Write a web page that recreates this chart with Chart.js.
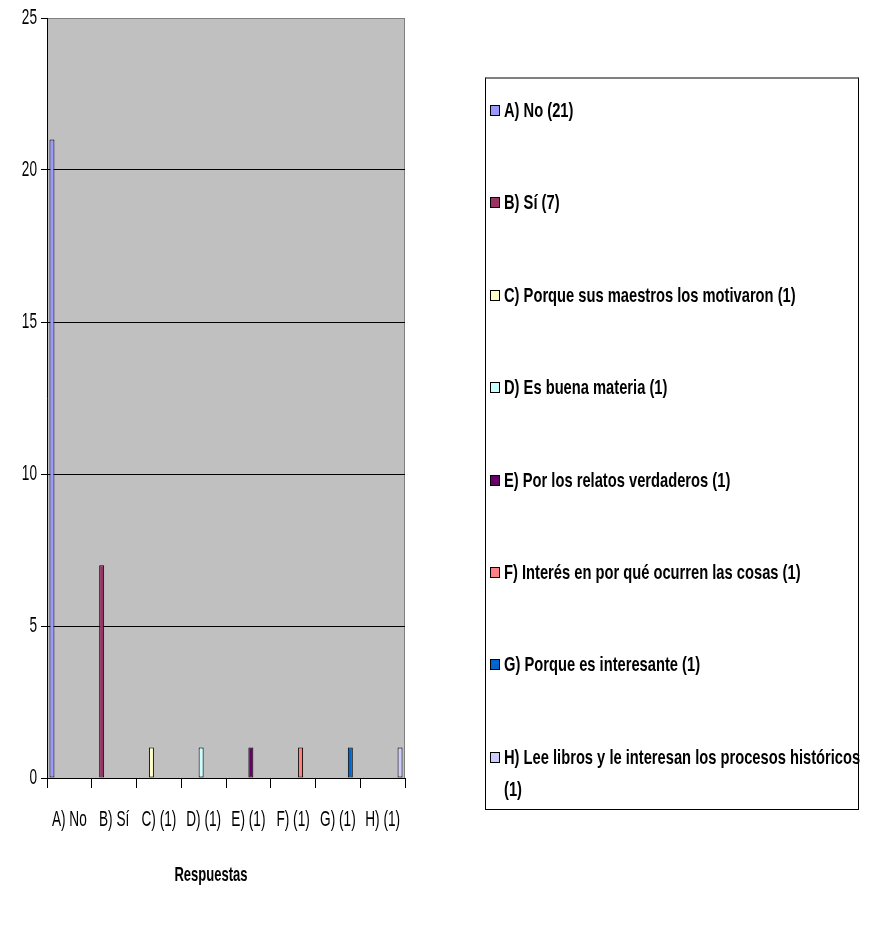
<!DOCTYPE html>
<html>
<head>
<meta charset="utf-8">
<script src="https://cdn.jsdelivr.net/npm/chart.js@4.4.1/dist/chart.umd.min.js"></script>
<style>
  html, body { margin: 0; padding: 0; background: #ffffff; }
  #wrap { position: relative; width: 872px; height: 941px; overflow: hidden; }
  #chart { position: absolute; left: 0; top: 0; }
  .font { font-family: "Liberation Sans", Arial, sans-serif; }
  /* tall, condensed lettering */
  .cond { display: inline-block; transform: scaleX(0.70); transform-origin: 0 0; }
  #axisTitle { position: absolute; left: 111px; width: 200px; top: 861px; text-align: center;
               font-weight: bold; font-size: 21px; line-height: 26px; color: #000; }
  #axisTitle .cond { transform: scaleX(0.62); transform-origin: 50% 0; }
  #legendBox { position: absolute; left: 485px; top: 77px; width: 374px; height: 733px;
               border: 1px solid #000; border-top: 2px solid #808080; box-sizing: border-box; }
  .item { position: absolute; left: 4px; right: 0; font-weight: bold; font-size: 21px;
          line-height: 32px; color: #000; }
  .item .cond { position: absolute; left: 14px; top: 0; width: 512px; white-space: normal; }
  .swatch { position: absolute; left: 0; top: 11px; width: 8px; height: 9px; border: 1px solid #000; }
</style>
</head>
<body>
<div id="wrap">
  <canvas id="chart" width="872" height="941"></canvas>
  <div id="axisTitle" class="font"><span class="cond">Respuestas</span></div>
  <div id="legendBox" class="font"></div>
</div>
<script>
// Answer categories along the x axis
const categories = ['A) No', 'B) Sí', 'C) (1)', 'D) (1)', 'E) (1)', 'F) (1)', 'G) (1)', 'H) (1)'];
// One series per answer, as named in the legend
const seriesNames = [
  'A) No (21)',
  'B) Sí (7)',
  'C) Porque sus maestros los motivaron (1)',
  'D) Es buena materia (1)',
  'E) Por los relatos verdaderos (1)',
  'F) Interés en por qué ocurren las cosas (1)',
  'G) Porque es interesante (1)',
  'H) Lee libros y le interesan los procesos históricos (1)'
];
// Number of responses per answer
const counts = [21, 7, 1, 1, 1, 1, 1, 1];
// Fill colours for each series
const seriesColors = ['#9999FF', '#993366', '#FFFFCC', '#CCFFFF', '#660066', '#FF8080', '#0066CC', '#CCCCFF'];
// Value axis ticks
const yTicks = [0, 5, 10, 15, 20, 25];

const FONT = '"Liberation Sans", Arial, sans-serif';
const NARROW = 0.62;

// Each answer is its own series with a value only in its own category
const datasets = seriesNames.map((name, i) => ({
  label: name,
  data: categories.map((_, j) => (j === i ? counts[i] : null)),
  backgroundColor: seriesColors[i],
  borderColor: '#000000',
  borderWidth: 1,
  borderSkipped: false,
  categoryPercentage: 0.89,
  barPercentage: 1.0
}));

// Grey plot area with a grey frame
const plotBackground = {
  id: 'plotBackground',
  beforeDraw(chart) {
    const { ctx, chartArea: a } = chart;
    ctx.save();
    ctx.fillStyle = '#C0C0C0';
    ctx.fillRect(a.left, a.top, a.right - a.left, a.bottom - a.top);
    ctx.strokeStyle = '#808080';
    ctx.lineWidth = 1;
    ctx.strokeRect(a.left + 0.5, a.top + 0.5, a.right - a.left - 1, a.bottom - a.top);
    ctx.restore();
  }
};

// Canvas text is drawn horizontally condensed (tall narrow lettering)
const canvas = document.getElementById('chart');
const ctx2d = canvas.getContext('2d');
const baseFillText = ctx2d.fillText;
ctx2d.fillText = function (text, x, y, maxWidth) {
  const w = this.measureText(text).width * NARROW;
  return baseFillText.call(this, text, x, y, maxWidth !== undefined ? Math.min(maxWidth, w) : w);
};

const chart = new Chart(ctx2d, {
  type: 'bar',
  data: { labels: categories, datasets },
  plugins: [plotBackground],
  options: {
    responsive: false,
    animation: false,
    layout: { padding: { top: 18, right: 467, left: 0, bottom: 0 } },
    plugins: { legend: { display: false }, tooltip: { enabled: false } },
    scales: {
      x: {
        grid: { offset: true, drawOnChartArea: false, drawTicks: true, tickLength: 10, color: '#000000' },
        border: { display: true, color: '#000000', width: 1 },
        ticks: { color: '#000000', font: { family: FONT, size: 22 }, padding: 19, maxRotation: 0, minRotation: 0, autoSkip: false },
        afterFit(scale) { scale.height = 941 - 778; }
      },
      y: {
        min: 0, max: 25,
        afterBuildTicks(scale) { scale.ticks = yTicks.map(v => ({ value: v })); },
        grid: {
          color: c => (c.tick && (c.tick.value === 25 || c.tick.value === 0)) ? 'rgba(0,0,0,0)' : '#000000',
          tickColor: '#000000',
          tickLength: 6,
          drawTicks: true
        },
        border: { display: true, color: '#000000', width: 1 },
        ticks: { color: '#000000', font: { family: FONT, size: 22 }, padding: 4 },
        afterFit(scale) { scale.width = 47; }
      }
    }
  }
});

// Legend box built from the chart's own series
const box = document.getElementById('legendBox');
const firstRow = 15;   // top of the first row inside the box
const rowStep = 92.4;  // distance between rows
chart.data.datasets.forEach((ds, i) => {
  const row = document.createElement('div');
  row.className = 'item';
  row.style.top = (firstRow + i * rowStep) + 'px';
  const sw = document.createElement('span');
  sw.className = 'swatch';
  sw.style.background = ds.backgroundColor;
  const txt = document.createElement('span');
  txt.className = 'cond';
  txt.textContent = ds.label;
  row.appendChild(sw);
  row.appendChild(txt);
  box.appendChild(row);
});
</script>
</body>
</html>
